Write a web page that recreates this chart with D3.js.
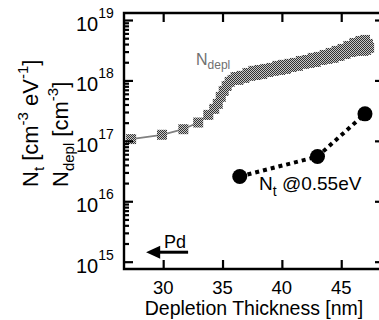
<!DOCTYPE html>
<html>
<head>
<meta charset="utf-8">
<script src="https://cdn.jsdelivr.net/npm/d3@7/dist/d3.min.js"></script>
<style>
  html, body { margin: 0; padding: 0; background: #fff; }
  svg { display: block; }
  text { font-family: "Liberation Sans", Arial, sans-serif; }
</style>
</head>
<body>
<div id="chart"></div>
<script>
// depletion doping profile (thickness in nm, density in cm^-3)
const depThickness = [27.3, 29.9, 31.7, 32.95, 33.8, 34.3, 34.6, 34.85, 35.1, 35.35, 35.6, 35.85,
  36.1, 36.35, 36.6, 36.85, 37.1, 37.35, 37.6, 37.85, 38.1, 38.35, 38.6, 38.85, 39.1, 39.35,
  39.6, 39.85, 40.1, 40.35, 40.6, 40.85, 41.1, 41.35, 41.6, 41.85, 42.1, 42.35, 42.6, 42.85,
  43.1, 43.35, 43.6, 43.85, 44.1, 44.35, 44.6, 44.85, 45.1, 45.35, 45.6, 45.85, 46.1, 46.35,
  46.6, 46.85, 47.0, 47.1, 47.25, 47.35];
const depDensity = [1.07e17, 1.26e17, 1.56e17, 2.01e17, 2.69e17, 3.38e17, 4.09e17, 5.34e17, 6.7e17, 8.1e17, 9.45e17, 1.02e18,
  1.14e18, 1.02e18, 1.19e18, 1.10e18, 1.33e18, 1.19e18, 1.44e18, 1.23e18, 1.49e18, 1.28e18, 1.55e18, 1.38e18, 1.61e18, 1.44e18,
  1.74e18, 1.49e18, 1.81e18, 1.55e18, 1.88e18, 1.67e18, 1.95e18, 1.74e18, 2.10e18, 1.88e18, 2.18e18, 1.95e18, 2.36e18, 2.02e18,
  2.45e18, 2.18e18, 2.64e18, 2.27e18, 2.85e18, 2.36e18, 3.08e18, 2.54e18, 3.32e18, 2.74e18, 3.72e18, 2.96e18, 4.17e18, 3.08e18,
  4.50e18, 3.08e18, 4.68e18, 3.20e18, 4.02e18, 3.45e18];

// trap density at 0.55 eV
const ntThickness = [36.45, 43.0, 47.0];
const ntDensity = [2.57e16, 5.5e16, 2.8e17];

const xTicks = [30, 35, 40, 45];
const yDecades = [1e15, 1e16, 1e17, 1e18, 1e19];

const W = 379, H = 320;
const mLeft = 124, mRight = 381, mTop = 13, mBottom = 269;

const x = d3.scaleLinear().domain([26.7, 48.35]).range([mLeft, mRight]);
const y = d3.scaleLog().domain([Math.pow(10, 14.879), Math.pow(10, 19.116)]).range([mBottom, mTop]);

const svg = d3.select('#chart').append('svg')
  .attr('width', W).attr('height', H);

svg.append('rect').attr('width', W).attr('height', H).attr('fill', '#fff');

// checkered fill for the square markers
const pat = svg.append('defs').append('pattern')
  .attr('id', 'chk').attr('patternUnits', 'userSpaceOnUse')
  .attr('width', 2).attr('height', 2);
pat.append('rect').attr('width', 2).attr('height', 2).attr('fill', '#c8c8c8');
pat.append('rect').attr('x', 0).attr('y', 0).attr('width', 1).attr('height', 1).attr('fill', '#333');
pat.append('rect').attr('x', 1).attr('y', 1).attr('width', 1).attr('height', 1).attr('fill', '#333');

const dep = depThickness.map((t, i) => ({ t: t, v: depDensity[i] }));
const nt = ntThickness.map((t, i) => ({ t: t, v: ntDensity[i] }));

// N_depl line + squares
svg.append('path')
  .datum(dep)
  .attr('fill', 'none')
  .attr('stroke', '#808080')
  .attr('stroke-width', 1.8)
  .attr('d', d3.line().x(d => x(d.t)).y(d => y(d.v)));

const sq = 10;
svg.append('g').selectAll('rect')
  .data(dep)
  .enter().append('rect')
  .attr('x', d => x(d.t) - sq / 2)
  .attr('y', d => y(d.v) - sq / 2)
  .attr('width', sq).attr('height', sq)
  .attr('fill', 'url(#chk)');

// N_t dotted line + circles
svg.append('path')
  .datum(nt)
  .attr('fill', 'none')
  .attr('stroke', '#000')
  .attr('stroke-width', 4)
  .attr('stroke-dasharray', '4 4')
  .attr('d', d3.line().x(d => x(d.t)).y(d => y(d.v)));

svg.append('g').selectAll('circle')
  .data(nt)
  .enter().append('circle')
  .attr('cx', d => x(d.t))
  .attr('cy', d => y(d.v))
  .attr('r', 7.5)
  .attr('fill', '#000');

// axes
const minor = [];
yDecades.slice(0, -1).forEach(d => { for (let k = 2; k <= 9; k++) minor.push(d * k); });

function styleAxis(g) {
  g.select('.domain').remove();
  g.selectAll('line').attr('stroke', '#000').attr('stroke-width', 2.2);
}

svg.append('g').attr('transform', `translate(${mLeft},0)`)
  .call(d3.axisLeft(y).tickValues(yDecades).tickSize(-9).tickFormat(''))
  .call(styleAxis);
svg.append('g').attr('transform', `translate(${mLeft},0)`)
  .call(d3.axisLeft(y).tickValues(minor).tickSize(-5).tickFormat(''))
  .call(styleAxis);
svg.append('g').attr('transform', `translate(${mRight},0)`)
  .call(d3.axisRight(y).tickValues(yDecades).tickSize(-6).tickFormat(''))
  .call(styleAxis);
svg.append('g').attr('transform', `translate(0,${mBottom})`)
  .call(d3.axisBottom(x).tickValues(xTicks).tickSize(-9).tickFormat(''))
  .call(styleAxis);
svg.append('g').attr('transform', `translate(0,${mTop})`)
  .call(d3.axisTop(x).tickValues(xTicks).tickSize(-9).tickFormat(''))
  .call(styleAxis);

// frame
svg.append('path')
  .attr('d', `M${mRight},${mTop}H${mLeft}V${mBottom}H${mRight}`)
  .attr('fill', 'none').attr('stroke', '#000').attr('stroke-width', 2.4);

// x tick labels
svg.append('g').selectAll('text')
  .data(xTicks)
  .enter().append('text')
  .attr('x', d => x(d))
  .attr('y', 294)
  .attr('text-anchor', 'middle')
  .attr('font-size', 18.5)
  .text(d => d);

// y tick labels 10^n
const yl = svg.append('g').selectAll('text')
  .data(yDecades)
  .enter().append('text')
  .attr('x', 76)
  .attr('y', d => y(d) + 11)
  .attr('font-size', 20);
yl.append('tspan').text('10');
yl.append('tspan').attr('dy', -13).attr('font-size', 14).text(d => Math.round(Math.log10(d)));

// x title
svg.append('text')
  .attr('x', 254).attr('y', 315)
  .attr('text-anchor', 'middle')
  .attr('font-size', 19.5)
  .text('Depletion Thickness [nm]');

// y title (two lines)
const t1 = svg.append('text')
  .attr('transform', 'translate(38,187) rotate(-90)')
  .attr('font-size', 22);
t1.append('tspan').text('N');
t1.append('tspan').attr('font-size', 15).attr('dy', 6).text('t');
t1.append('tspan').attr('dy', -6).text(' [cm');
t1.append('tspan').attr('font-size', 15).attr('dy', -10).text('-3');
t1.append('tspan').attr('dy', 10).text(' eV');
t1.append('tspan').attr('font-size', 15).attr('dy', -10).text('-1');
t1.append('tspan').attr('dy', 10).text(']');

const t2 = svg.append('text')
  .attr('transform', 'translate(68,187) rotate(-90)')
  .attr('font-size', 22);
t2.append('tspan').text('N');
t2.append('tspan').attr('font-size', 15).attr('dy', 6).text('depl');
t2.append('tspan').attr('dy', -6).text(' [cm');
t2.append('tspan').attr('font-size', 15).attr('dy', -10).text('-3');
t2.append('tspan').attr('dy', 10).text(']');

// series labels
const ld = svg.append('text').attr('x', 196).attr('y', 65).attr('font-size', 16).attr('fill', '#707070');
ld.append('tspan').text('N');
ld.append('tspan').attr('font-size', 12).attr('dy', 4).text('depl');

const lt = svg.append('text').attr('x', 259).attr('y', 190).attr('font-size', 19).attr('fill', '#000');
lt.append('tspan').text('N');
lt.append('tspan').attr('font-size', 14).attr('dy', 6).text('t');
lt.append('tspan').attr('dy', -6).text(' @0.55eV');

// Pd arrow annotation
const arrowY = Math.pow(10, 15.157);
svg.append('line')
  .attr('x1', x(32.1)).attr('x2', x(29.6))
  .attr('y1', y(arrowY)).attr('y2', y(arrowY))
  .attr('stroke', '#000').attr('stroke-width', 3);
svg.append('path')
  .attr('d', `M${x(28.56)},${y(arrowY)}L${x(29.75)},${y(arrowY) - 6.5}L${x(29.75)},${y(arrowY) + 6.5}Z`)
  .attr('fill', '#000');
svg.append('text')
  .attr('x', 164).attr('y', 248)
  .attr('font-size', 18)
  .text('Pd');
</script>
</body>
</html>
